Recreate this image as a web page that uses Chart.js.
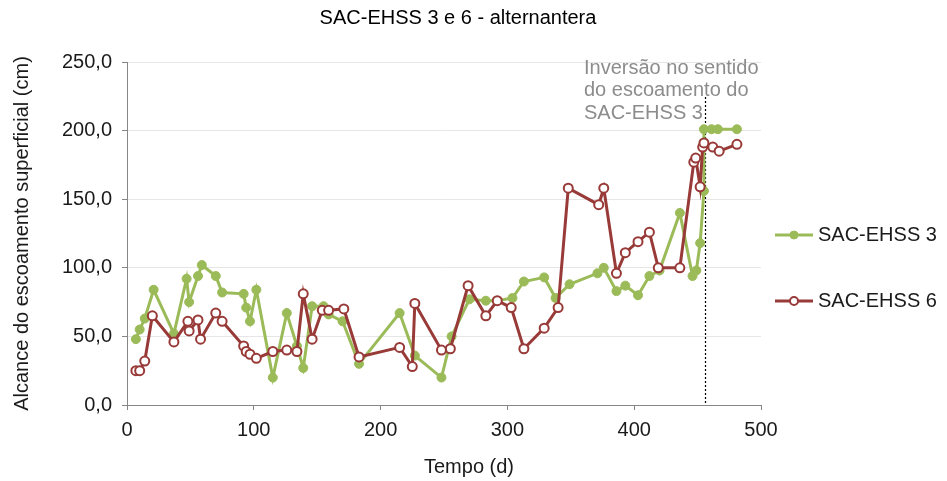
<!DOCTYPE html>
<html>
<head>
<meta charset="utf-8">
<script src="https://cdn.jsdelivr.net/npm/chart.js@4"></script>
<style>
  html, body { margin: 0; padding: 0; background: #fff; }
  #wrap { width: 947px; height: 481px; }
</style>
</head>
<body>
<div id="wrap"><canvas id="grafico"></canvas></div>
<script>
// SAC-EHSS 3 e 6 - alcance do escoamento ao longo do tempo
const dias3 = [7, 10, 14, 21, 37, 47, 49, 56, 59, 70, 75, 92, 94, 97, 102, 115, 126, 134, 139, 146, 155, 159, 170, 183, 215, 227, 248, 256, 270, 283, 292, 304, 313, 329, 338, 349, 371, 376, 386, 393, 403, 412, 420, 436, 446, 449, 452, 455, 455, 461, 466, 481];
const alcance3 = [48, 55, 63, 84, 52, 92, 75, 94, 102, 94, 82, 81, 71, 61, 84, 20, 67, 43, 27, 72, 72, 66, 61, 30, 67, 36, 20, 50, 77, 76, 76, 78, 90, 93, 78, 88, 96, 100, 83, 87, 80, 94, 98, 140, 94, 98, 118, 156, 201, 201, 201, 201];

const dias6 = [7, 10, 14, 20, 37, 48, 49, 56, 58, 70, 75, 92, 94, 97, 102, 115, 126, 134, 139, 146, 154, 159, 171, 183, 215, 225, 227, 248, 255, 269, 283, 292, 303, 313, 329, 340, 348, 372, 376, 386, 393, 403, 412, 419, 436, 447, 448.5, 452, 454, 455, 462, 467, 481];
const alcance6 = [25, 25, 32, 65, 46, 61, 54, 62, 48, 67, 61, 43, 39, 37, 34, 39, 40, 39, 81, 48, 69, 69, 70, 35, 42, 28, 74, 40, 41, 87, 65, 76, 71, 41, 56, 71, 158, 146, 158, 96, 111, 119, 126, 100, 100, 177, 180, 159, 188, 191, 188, 185, 190];

const diaInversao = 456;
const notaInversao = ["Inversão no sentido", "do escoamento do", "SAC-EHSS 3"];
const titulo = "SAC-EHSS 3 e 6 - alternantera";

const fonte = "'Liberation Sans', Arial, sans-serif";

function pontos(xs, ys) {
    return xs.map((x, i) => ({ x: x, y: ys[i] }));
}

const extras = {
    id: "extras",
    beforeDatasetsDraw(chart) {
        const ctx = chart.ctx;
        const x = Math.round(chart.scales.x.getPixelForValue(diaInversao)) + 0.5;
        ctx.save();
        ctx.strokeStyle = "#000";
        ctx.lineWidth = 1.2;
        ctx.setLineDash([2, 2]);
        ctx.beginPath();
        ctx.moveTo(x, 97);
        ctx.lineTo(x, chart.chartArea.bottom);
        ctx.stroke();
        ctx.restore();
    },
    afterDraw(chart) {
        const ctx = chart.ctx;
        ctx.save();
        ctx.font = "20px " + fonte;
        ctx.textBaseline = "middle";

        // titulo
        ctx.fillStyle = "#000";
        ctx.textAlign = "center";
        ctx.fillText(titulo, 458, 18);

        // nota
        ctx.fillStyle = "#8c8c8c";
        ctx.textAlign = "left";
        notaInversao.forEach((t, i) => ctx.fillText(t, 584, 68 + i * 22.5));

        // titulo eixo x
        ctx.fillStyle = "#1a1a1a";
        ctx.textAlign = "center";
        ctx.fillText("Tempo (d)", 469, 467);

        // legenda
        const ys = [235, 301];
        chart.data.datasets.forEach((ds, i) => {
            const y = ys[i];
            ctx.strokeStyle = ds.borderColor;
            ctx.lineWidth = ds.borderWidth;
            ctx.setLineDash([]);
            ctx.beginPath();
            ctx.moveTo(775, y);
            ctx.lineTo(813, y);
            ctx.stroke();
            ctx.beginPath();
            ctx.arc(794, y, 4, 0, Math.PI * 2);
            ctx.fillStyle = ds.pointBackgroundColor;
            ctx.fill();
            ctx.lineWidth = ds.pointBorderWidth;
            ctx.strokeStyle = ds.pointBorderColor;
            ctx.stroke();
            ctx.fillStyle = "#1a1a1a";
            ctx.textAlign = "left";
            ctx.fillText(ds.label, 818, y);
        });
        ctx.restore();
    }
};

new Chart(document.getElementById("grafico"), {
    type: "line",
    data: {
        datasets: [
            {
                label: "SAC-EHSS 3",
                data: pontos(dias3, alcance3),
                borderColor: "#9bbb59",
                backgroundColor: "#9bbb59",
                borderWidth: 3,
                pointRadius: 4.5,
                pointBackgroundColor: "#9bbb59",
                pointBorderColor: "#9bbb59",
                pointBorderWidth: 1,
                tension: 0,
                order: 1
            },
            {
                label: "SAC-EHSS 6",
                data: pontos(dias6, alcance6),
                borderColor: "#983a38",
                backgroundColor: "#983a38",
                borderWidth: 3,
                pointRadius: 4.5,
                pointBackgroundColor: "#ffffff",
                pointBorderColor: "#983a38",
                pointBorderWidth: 2,
                tension: 0,
                order: 0
            }
        ]
    },
    options: {
        responsive: true,
        maintainAspectRatio: false,
        animation: false,
        layout: { padding: { left: 0, right: 186, top: 62, bottom: 0 } },
        plugins: {
            legend: { display: false },
            tooltip: { enabled: false },
            title: { display: false }
        },
        scales: {
            x: {
                type: "linear",
                min: 0,
                max: 500,
                ticks: {
                    stepSize: 100,
                    color: "#1a1a1a",
                    padding: 8,
                    font: { family: fonte, size: 20 }
                },
                grid: {
                    drawOnChartArea: false,
                    tickLength: 5,
                    tickColor: "#868686"
                },
                border: { color: "#868686", width: 1 },
                afterFit(scale) { scale.height = 76; }
            },
            y: {
                min: 0,
                max: 250,
                ticks: {
                    stepSize: 50,
                    color: "#1a1a1a",
                    padding: 10,
                    font: { family: fonte, size: 20 },
                    callback: (v) => v.toFixed(1).replace(".", ",")
                },
                grid: {
                    color: "#e6e6e6",
                    tickLength: 5,
                    tickColor: "#868686"
                },
                border: { color: "#868686", width: 1 },
                title: {
                    display: true,
                    text: "Alcance do escoamento superficial (cm)",
                    color: "#1a1a1a",
                    font: { family: fonte, size: 20 },
                    padding: { top: 10, bottom: 0 }
                },
                afterFit(scale) { scale.width = 127; }
            }
        }
    },
    plugins: [extras]
});
</script>
</body>
</html>
